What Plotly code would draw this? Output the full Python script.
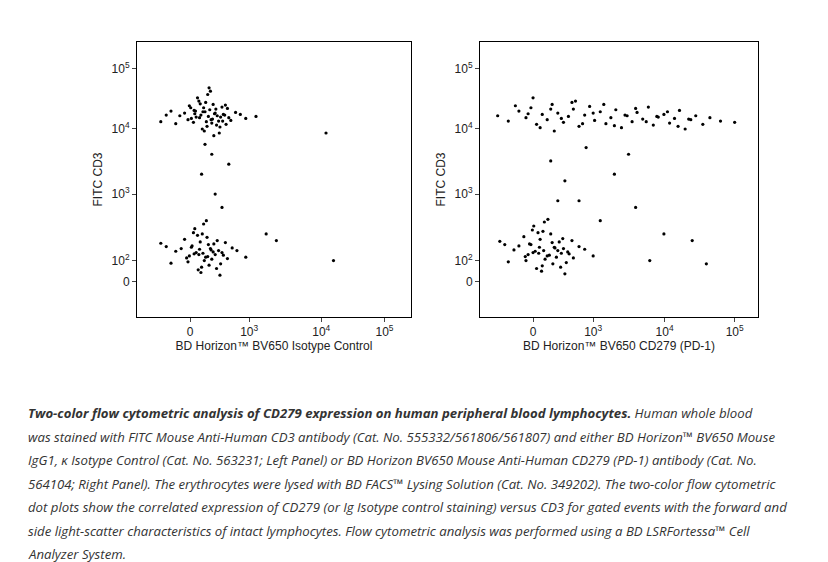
import plotly.graph_objects as go

# values in display-channel units (decades on the biexponential scale)
L_top_x = [2.40,2.21,2.55,2.33,2.62,2.18,2.47,2.70,2.05,2.38,2.29,2.51,2.44,2.12,2.66,2.35,2.58,2.26,2.73,1.98,2.42,2.31,2.49,2.15,2.60,2.37,2.24,2.53,2.80,1.92,2.46,2.28,2.57,2.19,2.64,2.39,2.10,2.50,2.34,2.68,2.22,2.45,2.87,1.85,2.36,2.56,2.27,2.43,2.61,2.14,2.48,2.32,2.95,1.78,2.41,2.52,2.20,2.65,3.10,1.70,
           2.45,2.30,2.50,2.60,2.35,2.70,4.13,3.25,3.40,4.24]
L_top_y = [4.17,4.25,4.10,4.30,4.20,4.08,4.35,4.15,4.22,4.02,4.19,4.28,4.12,4.33,4.05,4.24,4.16,4.40,4.11,4.18,4.27,3.98,4.21,4.14,4.31,4.09,4.45,4.18,4.23,4.06,4.13,4.36,4.01,4.26,4.19,4.50,4.12,4.22,3.95,4.29,4.16,4.07,4.20,4.25,4.38,3.92,4.15,4.55,4.10,4.30,3.88,4.24,4.14,4.19,4.60,4.04,4.21,4.34,4.17,4.09,
           3.60,3.30,3.00,2.80,3.75,3.45,3.92,2.40,2.30,2.00]
L_bot_x = [2.32,2.15,2.45,2.28,2.55,2.10,2.38,2.62,2.00,2.30,2.22,2.48,2.36,2.05,2.58,2.27,2.50,2.18,2.68,1.92,2.40,2.25,2.44,2.12,2.53,2.34,2.20,2.47,2.75,1.85,2.39,2.24,2.52,2.16,2.60,2.33,2.08,2.43,2.29,2.65,2.19,2.41,2.82,1.78,2.31,2.57,2.26,2.37,2.95,1.70]
L_bot_y = [2.11,2.20,2.02,2.28,2.15,1.98,2.35,2.08,2.18,1.90,2.12,2.25,2.05,2.32,1.95,2.17,2.09,2.42,2.03,2.14,2.24,1.86,2.16,2.07,2.30,2.00,2.48,2.13,2.19,1.96,2.06,2.38,1.88,2.22,2.12,2.55,2.04,2.18,1.82,2.27,2.10,1.93,2.15,2.21,2.40,1.78,2.09,2.60,2.05,2.26]

R_top_x = [1.65,1.80,1.95,2.05,2.12,2.20,2.28,2.35,2.42,2.50,2.58,2.65,2.72,2.80,2.88,2.95,3.02,3.10,3.18,3.25,3.32,3.40,3.48,3.55,3.62,3.70,3.78,3.85,3.92,4.00,4.08,4.15,4.22,4.30,4.38,4.45,4.55,4.65,4.80,5.00,
           1.90,2.08,2.25,2.40,2.55,2.70,2.85,3.00,3.15,3.30,3.45,3.60,3.75,3.90,4.05,4.20,4.35,2.15,2.45,2.75,
           2.40,2.60,2.90,3.30,2.50,3.60,3.10,4.00,4.40,3.80,4.60,2.80,3.50]
R_top_y = [4.18,4.10,4.25,4.15,4.30,4.05,4.20,4.12,4.35,4.22,4.08,4.17,4.28,4.02,4.19,4.32,4.11,4.24,4.06,4.15,4.27,4.00,4.18,4.09,4.23,4.13,4.31,4.04,4.16,4.20,4.07,4.14,4.26,3.98,4.12,4.18,4.05,4.15,4.10,4.08,
           4.33,4.21,4.00,4.28,4.14,4.38,4.06,4.22,4.35,4.03,4.19,4.29,4.09,4.17,4.24,4.02,4.13,4.45,3.95,4.40,
           3.50,3.20,3.70,3.30,2.90,2.80,2.60,2.40,2.30,2.00,1.95,2.90,3.60]
R_bot_x = [2.30,2.12,2.48,2.25,2.58,2.05,2.40,2.66,1.95,2.28,2.18,2.52,2.35,2.02,2.62,2.24,2.55,2.14,2.72,1.88,2.42,2.20,2.46,2.08,2.57,2.32,2.16,2.50,2.80,1.80,2.38,2.22,2.54,2.10,2.64,2.31,2.04,2.45,2.27,2.70,2.15,2.43,2.88,1.75,2.29,2.60,2.23,2.36,3.00,1.68]
R_bot_y = [2.15,2.24,2.05,2.32,2.18,2.00,2.40,2.10,2.22,1.92,2.14,2.28,2.07,2.36,1.97,2.20,2.11,2.46,2.04,2.16,2.27,1.88,2.19,2.09,2.33,2.02,2.52,2.15,2.21,1.98,2.08,2.42,1.90,2.25,2.13,2.58,2.06,2.20,1.84,2.30,2.12,1.95,2.17,2.24,2.44,1.80,2.11,2.62,2.07,2.29]

y_tick_pos = [1.68, 2.0, 3.0, 3.99, 4.89]
y_tick_txt = ["0", "10<sup>2</sup>", "10<sup>3</sup>", "10<sup>4</sup>", "10<sup>5</sup>"]
xL_tick_pos = [2.13, 3.0, 4.06, 4.99]
xR_tick_pos = [2.15, 3.0, 4.01, 5.0]
x_tick_txt = ["0", "10<sup>3</sup>", "10<sup>4</sup>", "10<sup>5</sup>"]
x_titles = ["BD Horizon™ BV650 Isotype Control", "BD Horizon™ BV650 CD279 (PD-1)"]
caption = [
    "<b>Two-color flow cytometric analysis of CD279 expression on human peripheral blood lymphocytes.</b> Human whole blood",
    "was stained with FITC Mouse Anti-Human CD3 antibody (Cat. No. 555332/561806/561807) and either BD Horizon™ BV650 Mouse",
    "IgG1, κ Isotype Control (Cat. No. 563231; Left Panel) or BD Horizon BV650 Mouse Anti-Human CD279 (PD-1) antibody (Cat. No.",
    "564104; Right Panel). The erythrocytes were lysed with BD FACS™ Lysing Solution (Cat. No. 349202). The two-color flow cytometric",
    "dot plots show the correlated expression of CD279 (or Ig Isotype control staining) versus CD3 for gated events with the forward and",
    "side light-scatter characteristics of intact lymphocytes. Flow cytometric analysis was performed using a BD LSRFortessa™ Cell",
    "Analyzer System.",
]

W, H = 828, 562
fig = go.Figure()
mk = dict(color="black", size=3.2)
fig.add_trace(go.Scatter(x=L_top_x + L_bot_x, y=L_top_y + L_bot_y, mode="markers", marker=mk, xaxis="x", yaxis="y", showlegend=False))
fig.add_trace(go.Scatter(x=R_top_x + R_bot_x, y=R_top_y + R_bot_y, mode="markers", marker=mk, xaxis="x2", yaxis="y2", showlegend=False))

def yax(anchor):
    return dict(domain=[1 - 309 / H, 1 - 34 / H], range=[1.15, 5.29], anchor=anchor,
                tickvals=y_tick_pos, ticktext=y_tick_txt, ticks="outside", ticklen=4,
                showline=True, linecolor="black", mirror=True, showgrid=False, zeroline=False,
                tickfont=dict(family="Arial", size=12, color="#222"),
                title=dict(text="FITC CD3", font=dict(family="Arial", size=12, color="#222"), standoff=6))

def xax(anchor, dom, tpos, title, rng):
    return dict(domain=dom, range=rng, anchor=anchor, tickvals=tpos, ticktext=x_tick_txt,
                ticks="outside", ticklen=4, showline=True, linecolor="black", mirror=True,
                showgrid=False, zeroline=False,
                tickfont=dict(family="Arial", size=12, color="#222"),
                title=dict(text=title, font=dict(family="Arial", size=12, color="#222"), standoff=2))

fig.update_layout(
    width=W, height=H, margin=dict(l=0, r=0, t=0, b=0),
    paper_bgcolor="white", plot_bgcolor="white",
    xaxis=xax("y", [129 / W, 403 / W], xL_tick_pos, x_titles[0], [1.35, 5.38]),
    yaxis=yax("x"),
    xaxis2=xax("y2", [472 / W, 750 / W], xR_tick_pos, x_titles[1], [1.40, 5.33]),
    yaxis2=yax("x2"),
)
for i, line in enumerate(caption):
    fig.add_annotation(text="<i>" + line + "</i>", xref="paper", yref="paper", x=18 / W,
                       y=1 - (405 + 23.5 * i) / H, xanchor="left", yanchor="middle", showarrow=False,
                       font=dict(family="Open Sans", size=13.2, color="#333"))
fig.write_html("out.html")
